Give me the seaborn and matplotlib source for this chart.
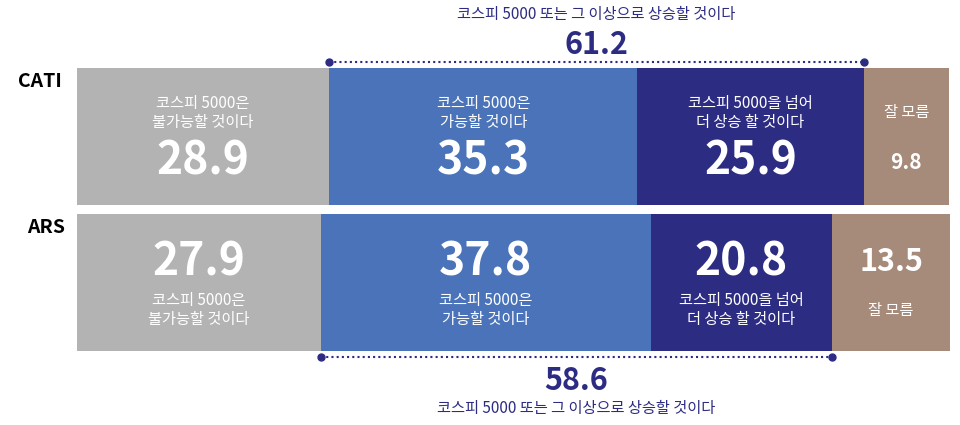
import seaborn as sns
import matplotlib.pyplot as plt

sns.set_theme(style="white")
plt.rcParams['font.family'] = ['Noto Sans CJK KR', 'DejaVu Sans']

groups = ['CATI', 'ARS']
cati = [28.9, 35.3, 25.9, 9.8]
ars = [27.9, 37.8, 20.8, 13.5]
seg_labels = ['코스피 5000은\n불가능할 것이다', '코스피 5000은\n가능할 것이다',
              '코스피 5000을 넘어\n더 상승 할 것이다', '잘 모름']
colors = ['#b3b3b3', '#4a73b9', '#2d2c83', '#a68b7b']
sum_cati, sum_ars = 61.2, 58.6
caption = '코스피 5000 또는 그 이상으로 상승할 것이다'
navy = '#2d2c83'

fig = plt.figure(figsize=(9.6, 4.25), dpi=100)
ax = fig.add_axes([0, 0, 1, 1])

# stacked bars: draw cumulative totals from longest to shortest
for i in range(3, -1, -1):
    cum = [sum(cati[:i + 1]), sum(ars[:i + 1])]
    sns.barplot(x=cum, y=groups, color=colors[i], saturation=1, width=0.94,
                orient='h', ax=ax, linewidth=0, edgecolor='none')

# pixel mapping helpers
px_per = 873 / 100
ax.set_xlim(-77 / px_per, (960 - 77) / px_per)
ax.set_ylim((425 - 136.5) / 146, -136.5 / 146)
ax.axis('off')

def py(p):
    return (p - 136.5) / 146

def pxx(p):
    return (p - 77) / px_per

ax.text(pxx(40), py(82), 'CATI', ha='center', va='center', fontsize=14, fontweight='black', color='black')
ax.text(pxx(46), py(228), 'ARS', ha='center', va='center', fontsize=14, fontweight='black', color='black')

for row, vals in enumerate([cati, ars]):
    left = 0
    for i, v in enumerate(vals):
        c = left + v / 2
        if row == 0:
            if i < 3:
                ax.text(c, py(113), seg_labels[i], ha='center', va='center', color='white',
                        fontsize=11, linespacing=1.2, fontweight='medium')
                ax.text(c, py(162), f'{v}', ha='center', va='center', color='white',
                        fontsize=32, fontweight='black')
            else:
                ax.text(c, py(113), seg_labels[i], ha='center', va='center', color='white',
                        fontsize=11, fontweight='medium')
                ax.text(c, py(163), f'{v}', ha='center', va='center', color='white',
                        fontsize=15, fontweight='black')
        else:
            if i < 3:
                ax.text(c, py(262), f'{v}', ha='center', va='center', color='white',
                        fontsize=32, fontweight='black')
                ax.text(c, py(310), seg_labels[i], ha='center', va='center', color='white',
                        fontsize=11, linespacing=1.2, fontweight='medium')
            else:
                ax.text(c, py(262), f'{v}', ha='center', va='center', color='white',
                        fontsize=22, fontweight='black')
                ax.text(c, py(310), seg_labels[i], ha='center', va='center', color='white',
                        fontsize=11, fontweight='medium')
        left += v

# brackets
for vals, total, yl, ynum, ycap in [(cati, sum_cati, 62, 45, 15), (ars, sum_ars, 357, 381, 408)]:
    x0, x1 = vals[0], vals[0] + vals[1] + vals[2]
    ax.plot([x0, x1], [py(yl), py(yl)], ls=(0, (1, 1.5)), color=navy, lw=1.5)
    ax.plot([x0, x1], [py(yl), py(yl)], 'o', color=navy, ms=5)
    mid = (x0 + x1) / 2
    ax.text(mid, py(ynum), f'{total}', ha='center', va='center', color=navy,
            fontsize=22, fontweight='black')
    ax.text(mid, py(ycap), caption, ha='center', va='center', color=navy,
            fontsize=11, fontweight='medium')

fig.savefig('out.png', dpi=100)
